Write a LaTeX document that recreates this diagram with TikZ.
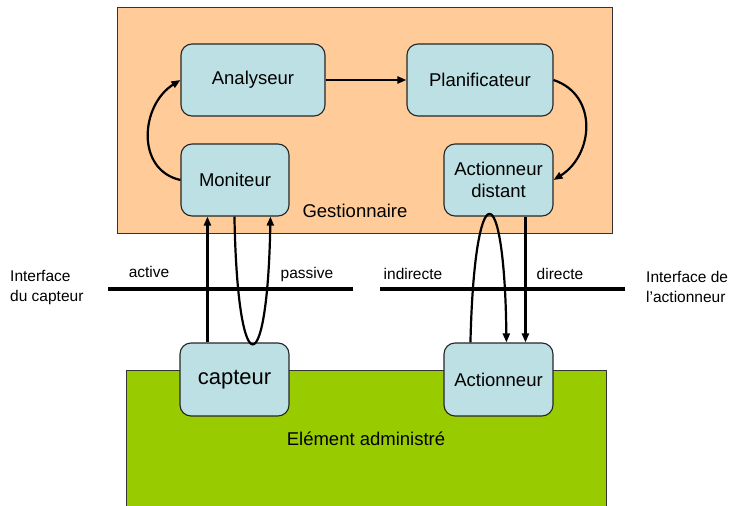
\documentclass[tikz,border=0pt]{standalone}
\usepackage{fontspec}
\setmainfont{Liberation Sans}
\usetikzlibrary{arrows.meta}
\definecolor{gestorange}{HTML}{FFCC99}
\definecolor{elemgreen}{HTML}{99CC00}
\definecolor{blockblue}{HTML}{BCE0E3}

\begin{document}
\begin{tikzpicture}[x=1pt,y=1pt]
\tikzstyle{every node}+=[inner sep=0pt]
\tikzstyle{block}=[draw=black!85,fill=blockblue,rounded corners=11pt,line width=1.1pt,minimum width=109pt,minimum height=72pt,align=center,font=\fontsize{18.5}{22}\selectfont]
\tikzstyle{lbl}=[font=\fontsize{15.5}{20}\selectfont,align=left]
\tikzstyle{flow}=[line width=2.2pt,-{Triangle[length=9pt,width=7pt]}]
\tikzstyle{iface}=[line width=3.5pt]
\useasboundingbox (0,0) rectangle (729,-506);
\draw [black!80,fill=gestorange,line width=1pt] (117,-7) rectangle (612,-233);
\draw [black!80,fill=elemgreen,line width=1pt] (126,-370) rectangle (606,-510);
\node [font=\fontsize{18.5}{22}\selectfont] (gest) at (355,-211) {Gestionnaire};
\node [font=\fontsize{18.5}{22}\selectfont] (elem) at (366,-439) {Elément administré};
\node [block,minimum width=144pt] (ana) at (253,-80) {Analyseur};
\node [block,minimum width=146pt] (plan) at (480,-80) {Planificateur};
\node [block,minimum width=108pt] (mon) at (235,-180) {Moniteur};
\node [block] (actd) at (498.5,-180) {Actionneur\\distant};
\node [block,minimum height=73pt,font=\fontsize{22}{26}\selectfont] (cap) at (234.5,-379.5) {capteur};
\node [block,minimum height=73pt] (act) at (498.5,-379.5) {Actionneur};
\coordinate (capl) at (108,-289);
\coordinate (capr) at (353,-289);
\coordinate (actl) at (380,-289);
\coordinate (actr) at (625,-289);
\draw [iface] (capl) -- (capr);
\draw [iface] (actl) -- (actr);
\node [lbl,anchor=west] (capif) at (10,-287) {Interface\\du capteur};
\node [lbl,anchor=west] (actif) at (646,-287) {Interface de\\l'actionneur};
\node [lbl] (active) at (149,-272) {active};
\node [lbl] (passive) at (307,-274) {passive};
\node [lbl] (indirecte) at (413,-274) {indirecte};
\node [lbl] (directe) at (560,-274) {directe};
\draw [flow] (ana.east) -- (plan.west);
\draw [flow] (mon.west) .. controls +(-45,10) and +(-40,-25) .. (ana.west);
\draw [flow] (plan.east) .. controls +(45,-15) and +(40,25) .. (actd.east);
\draw [flow] ([xshift=28pt]cap.north west) -- ([xshift=27pt]mon.south west);
\draw [flow] ([xshift=54pt]mon.south west) .. controls +(3,-169) and +(-3,-169) .. ([xshift=90pt]mon.south west);
\draw [flow] ([xshift=27pt]act.north west) .. controls +(4,170) and +(-2,170) .. ([xshift=63pt]act.north west);
\draw [flow] ([xshift=82pt]actd.south west) -- ([xshift=82pt]act.north west);
\end{tikzpicture}
\end{document}
